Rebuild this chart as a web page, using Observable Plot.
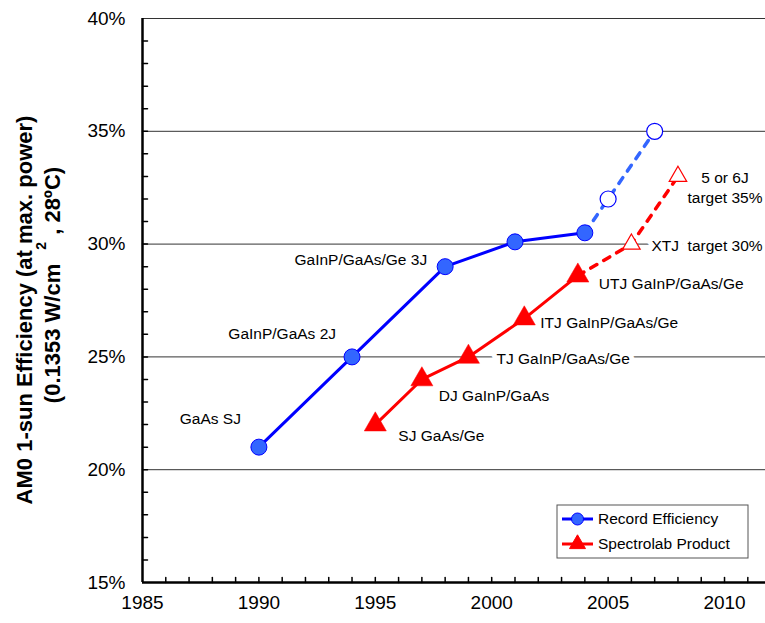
<!DOCTYPE html>
<html><head><meta charset="utf-8">
<script src="https://cdn.jsdelivr.net/npm/d3@7"></script>
<script src="https://cdn.jsdelivr.net/npm/@observablehq/plot@0.6"></script>
<style>
html,body{margin:0;padding:0;background:#fff;}
#chart{position:relative;width:765px;height:623px;overflow:hidden;}
svg{font-family:"Liberation Sans",Arial,sans-serif;}
</style></head><body><div id="chart"></div>
<script>
const recordYears = [1990, 1994, 1998, 2001, 2004];
const recordEff = [21.0, 25.0, 29.0, 30.1, 30.5];
const recordLabels = ["GaAs SJ", "GaInP/GaAs 2J", "GaInP/GaAs/Ge 3J", "", ""];
const recordTargetYears = [2004, 2005, 2007];
const recordTargetEff = [30.5, 32.0, 35.0];
const productYears = [1995, 1997, 1999, 2001.4, 2003.7];
const productEff = [22.0, 24.0, 25.0, 26.7, 28.6];
const productLabels = ["SJ GaAs/Ge", "DJ GaInP/GaAs", "TJ GaInP/GaAs/Ge", "ITJ GaInP/GaAs/Ge", "UTJ GaInP/GaAs/Ge"];
const productTargetYears = [2003.7, 2006, 2008];
const productTargetEff = [28.6, 30.0, 33.0];
const productTargetLabels = ["", "XTJ  target 30%", "5 or 6J\ntarget 35%"];
const yTicks = [15, 20, 25, 30, 35, 40];
const yGrid = [20, 25, 30, 35, 40];
const xTicks = [1985, 1990, 1995, 2000, 2005, 2010];
const seriesNames = ["Record Efficiency", "Spectrolab Product"];
const yTitle1 = "AM0 1-sun Efficiency (at max. power)";
const yTitle2a = "(0.1353 W/cm";
const yTitle2sup = "2";
const yTitle2b = ", 28ºC)";

const record = recordYears.map((x, i) => ({x, y: recordEff[i], label: recordLabels[i]}));
const recordT = recordTargetYears.map((x, i) => ({x, y: recordTargetEff[i]}));
const product = productYears.map((x, i) => ({x, y: productEff[i], label: productLabels[i]}));
const productT = productTargetYears.map((x, i) => ({x, y: productTargetEff[i], label: productTargetLabels[i]}));

const blue = "#0000ff", blueFill = "#3366ff", red = "#ff0000";
const recOff = [[-18, -28], [-16, -23], [-18, -7]];
const prodOff = [[23, 11], [17, 17], [28, 2], [16, 4], [21, 8]];
const tickShape = {draw(ctx, l) { ctx.moveTo(0, 0); ctx.lineTo(0, -l); }};
const labelStyle = {fontSize: 15.5, stroke: "white", strokeWidth: 10, fill: "black", fontWeight: "normal"};

const recLab = record.slice(0, 3).map((d, i) => ({...d, dx: recOff[i][0], dy: recOff[i][1]}));
const prodLab = product.map((d, i) => ({...d, dx: prodOff[i][0], dy: prodOff[i][1]}));

const marks = [
  Plot.ruleY(yGrid, {stroke: "#333", strokeWidth: 1}),
  Plot.ruleX([1985], {stroke: "black", strokeWidth: 2.5}),
  Plot.ruleY([15], {stroke: "black", strokeWidth: 2.5}),
  Plot.vector(d3.range(16, 40), {y: d => d, frameAnchor: "left", length: 5, rotate: 90, anchor: "start", shape: tickShape, stroke: "black", strokeWidth: 1.5}),
  Plot.vector(d3.range(1986, 2012), {x: d => d, frameAnchor: "bottom", length: 5, anchor: "start", shape: tickShape, stroke: "black", strokeWidth: 1.5}),
  Plot.axisY(yTicks, {tickSize: 0, tickPadding: 17, tickFormat: d => d + "%", fontSize: 19, label: null}),
  Plot.axisX(xTicks, {tickSize: 0, tickPadding: 13, tickFormat: d => String(d), fontSize: 19, label: null})
];
recLab.forEach(d => marks.push(Plot.text([d], {x: "x", y: "y", text: "label", textAnchor: "end", dx: d.dx, dy: d.dy, ...labelStyle})));
prodLab.forEach(d => marks.push(Plot.text([d], {x: "x", y: "y", text: "label", textAnchor: "start", dx: d.dx, dy: d.dy, ...labelStyle})));
marks.push(Plot.text([productT[1]], {x: "x", y: "y", text: "label", textAnchor: "start", dx: 20, dy: 2, ...labelStyle}));
marks.push(Plot.text([productT[2]], {x: "x", y: "y", text: "label", textAnchor: "middle", dx: 47, dy: 10, lineHeight: 1.3, ...labelStyle}));
marks.push(
  Plot.line(recordT, {x: "x", y: "y", stroke: blueFill, strokeWidth: 3.5, strokeDasharray: "7,8"}),
  Plot.line(productT, {x: "x", y: "y", stroke: red, strokeWidth: 3.5, strokeDasharray: "7,8"}),
  Plot.line(record, {x: "x", y: "y", stroke: blue, strokeWidth: 3}),
  Plot.line(product, {x: "x", y: "y", stroke: red, strokeWidth: 3}),
  Plot.dot(record, {x: "x", y: "y", r: 8, fill: blueFill, stroke: blue, strokeWidth: 1}),
  Plot.dot(recordT.slice(1), {x: "x", y: "y", r: 8, fill: "white", stroke: blue, strokeWidth: 1.2}),
  Plot.dot(product, {x: "x", y: "y", r: 8.2, symbol: "triangle", fill: red, stroke: red, strokeWidth: 0.5}),
  Plot.dot(productT.slice(1), {x: "x", y: "y", r: 6.5, symbol: "triangle", fill: "white", stroke: red, strokeWidth: 1.2})
);

const chart = Plot.plot({
  width: 765, height: 623,
  marginLeft: 142, marginTop: 18, marginBottom: 41, marginRight: 0,
  style: {fontFamily: "'Liberation Sans', Arial, sans-serif", color: "black", background: "white"},
  x: {domain: [1985, 2011.76]},
  y: {domain: [15, 40]},
  marks
});

const svg = d3.select(chart);
// y-axis title (two lines, rotated)
svg.append("text")
  .attr("transform", "translate(32,310) rotate(-90)")
  .attr("text-anchor", "middle").attr("font-size", 22).attr("font-weight", "bold").attr("fill", "black")
  .text(yTitle1);
const t2 = svg.append("text")
  .attr("transform", "translate(60,285) rotate(-90)")
  .attr("text-anchor", "middle").attr("font-size", 22).attr("font-weight", "bold").attr("fill", "black")
  .attr("xml:space", "preserve");
t2.append("tspan").text(yTitle2a);
t2.append("tspan").attr("dx", 14).attr("dy", -14).attr("font-size", 14).text(yTitle2sup);
t2.append("tspan").attr("dy", 14).attr("dx", 1).text(" " + yTitle2b);

// legend
const lg = svg.append("g").attr("transform", "translate(557,505)").attr("text-anchor", "start");
lg.append("rect").attr("width", 191).attr("height", 53).attr("fill", "white").attr("stroke", "#555").attr("stroke-width", 1);
const rows = [
  {name: seriesNames[0], color: blue, sym: d3.symbolCircle, size: Math.PI * 36, fill: blueFill},
  {name: seriesNames[1], color: red, sym: d3.symbolTriangle, size: 110, fill: red}
];
rows.forEach((r, i) => {
  const cy = 14 + i * 25;
  lg.append("line").attr("x1", 5).attr("x2", 36).attr("y1", cy).attr("y2", cy).attr("stroke", r.color).attr("stroke-width", 3);
  lg.append("path").attr("d", d3.symbol(r.sym, r.size)()).attr("transform", `translate(20.5,${cy})`).attr("fill", r.fill).attr("stroke", r.color).attr("stroke-width", 1);
  lg.append("text").attr("x", 41).attr("y", cy).attr("dy", "0.35em").attr("text-anchor", "start").attr("font-size", 15.5).attr("fill", "black").text(r.name);
});

document.getElementById("chart").appendChild(chart);
</script></body></html>
